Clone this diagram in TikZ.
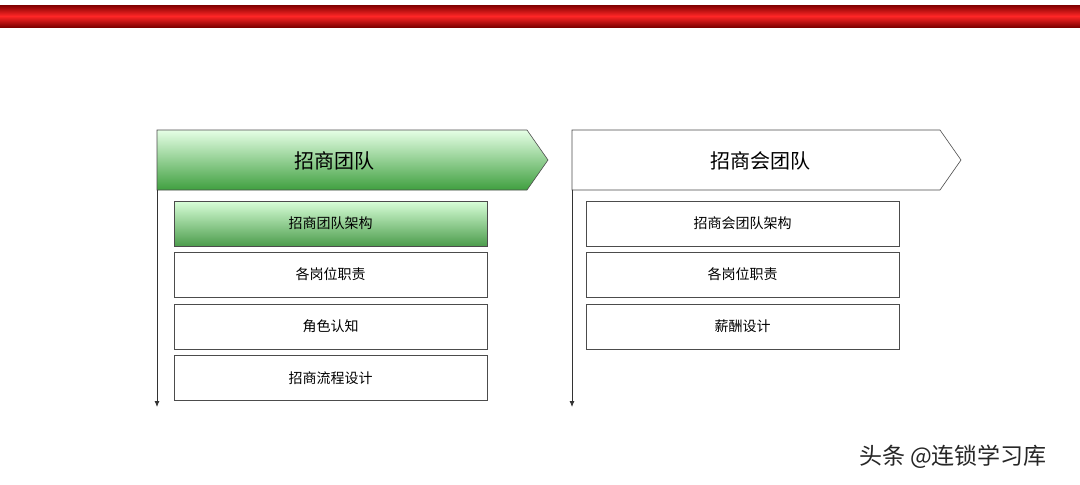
\documentclass[tikz,border=0pt]{standalone}
\usepackage{fontspec}
\usetikzlibrary{arrows.meta}
\setmainfont{Noto Sans CJK SC}
\begin{document}
\begin{tikzpicture}[x=1pt,y=-1pt,
  box/.style={draw=black!70,line width=0.6pt,minimum width=313pt,minimum height=45pt,inner sep=0pt,font=\fontsize{14}{16}\selectfont},
  gbox/.style={box,top color=green!15!white,bottom color=green!45!black!70!white},
  arr/.style={draw=black!80,line width=0.8pt,-{Latex[length=6pt,width=5pt]}}]
\useasboundingbox (0,0) rectangle (1080,485);
\fill[top color=red!50!black,bottom color=red!50!black,middle color=red!85!white] (0,5) rectangle (1080,27);
\draw[black!70,line width=0.6pt,top color=green!10!white,bottom color=green!50!black!75!white] (157,130) -- (527,130) -- (548,160) -- (527,190) -- (157,190) -- cycle;
\node[font=\fontsize{20}{22}\selectfont] (h1) at (334,161) {招商团队};
\draw[black!70,line width=0.6pt,fill=white] (572,130) -- (940,130) -- (961,160) -- (940,190) -- (572,190) -- cycle;
\node[font=\fontsize{20}{22}\selectfont] (h2) at (760,161) {招商会团队};
\coordinate (l0) at (157,190); \coordinate (l1) at (157,407);
\coordinate (r0) at (572,190); \coordinate (r1) at (572,407);
\draw[arr] (l0) -- (l1);
\draw[arr] (r0) -- (r1);
\node[gbox] (a1) at (330.5,223.5) {招商团队架构};
\node[box] (a2) at (330.5,274.5) {各岗位职责};
\node[box] (a3) at (330.5,326.5) {角色认知};
\node[box] (a4) at (330.5,378) {招商流程设计};
\node[box] (b1) at (742.5,223.5) {招商会团队架构};
\node[box] (b2) at (742.5,274.5) {各岗位职责};
\node[box] (b3) at (742.5,326.5) {薪酬设计};
\node[font=\fontsize{23}{25}\selectfont,text=black!85] (w) at (953,457) {头条 @连锁学习库};
\end{tikzpicture}
\end{document}
